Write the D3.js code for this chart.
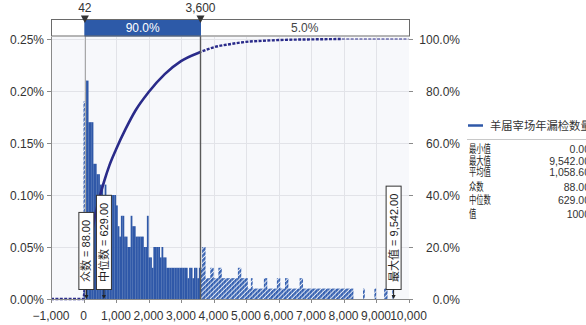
<!DOCTYPE html>
<html><head><meta charset="utf-8">
<script src="https://cdn.jsdelivr.net/npm/d3@7"></script>
<style>
body{margin:0;background:#fff;}
svg{display:block;font-family:"Liberation Sans",Arial,"Noto Sans CJK SC",sans-serif;}
</style>
</head><body>
<svg id="c" width="586" height="325"></svg>
<script>
// ---------------- data ----------------
const binStart = 0;
const binWidth = 50;
// histogram heights (%), one per 50-unit bin starting at 0
const density = [
 0.19,0.21,0.21,0.17,0.17,0.17,0.13,0.13,0.12,0.12,
 0.11,0.11,0.10,0.11,0.10,0.10,0.09,0.10,0.10,0.10,
 0.09,0.07,0.06,0.08,0.08,0.06,0.06,0.05,0.05,0.08,
 0.07,0.07,0.06,0.06,0.06,0.06,0.06,0.05,0.05,0.08,
 0.04,0.04,0.03,0.05,0.05,0.05,0.05,0.04,0.05,0.04,
 0.04,0.03,0.03,0.03,0.03,0.03,0.03,0.03,0.03,0.03,
 0.03,0.03,0.03,0.03,0.02,0.03,0.03,0.02,0.03,0.03,
 0.02,0.03,0.03,0.05,0.05,0.02,0.02,0.02,0.03,0.03,
 0.02,0.02,0.02,0.03,0.03,0.02,0.02,0.02,0.02,0.02,
 0.02,0.02,0.02,0.02,0.02,0.03,0.03,0.02,0.02,0.02,
 0.02,0.01,0.01,0.02,0.01,0.01,0.01,0.01,0.01,0.01,
 0.01,0.02,0.02,0.01,0.01,0.01,0.01,0.01,0.01,0.02,
 0.02,0.01,0.01,0.01,0.02,0.02,0.01,0.01,0.01,0.01,
 0.01,0.01,0.01,0.02,0.02,0.01,0.01,0.01,0.01,0.01,
 0.01,0.01,0.01,0.01,0.01,0.01,0.01,0.01,0.01,0.01,
 0.01,0.01,0.01,0.01,0.01,0.01,0.01,0.01,0.01,0.01,
 0.01,0.01,0.01,0.01,0.01,0.01,0,0,0,0,
 0,0,0.01,0,0,0,0,0,0,0.01,
 0,0,0,0,0,0.01,0.01,0,0,0,
 0.01
];
// cumulative curve [value, cumulative %]
const cumValues  = [-1000,0,20,42,100,200,300,450,629,800,1000,1300,1600,2000,2500,3000,3600,4000,4500,5000,5500,6000,7000,7950];
const cumPercent = [0,0,2,5,12,21,28.5,37,45,51.5,57.5,65.5,72.5,79.5,86.5,91.5,95,96.8,98,98.9,99.3,99.6,99.85,100];
const xTicks = [-1000,0,1000,2000,3000,4000,5000,6000,7000,8000,9000,10000];
const yTicks = [0,0.05,0.10,0.15,0.20,0.25];
const y2Ticks = [0,20,40,60,80,100];
const lowerCut = 42, upperCut = 3600;
const bandLabels = ["", "90.0%", "5.0%"];
const markerNames = ["众数","中位数","最大值"];
const markerValues = [88, 629, 9542];
const markerTexts = ["88.00","629.00","9,542.00"];
const seriesName = "羊届宰场年漏检数量";
const statLabels = ["最小值","最大值","平均值","众数","中位数","值"];
const statValues = ["0.00","9,542.00","1,058.60","88.00","629.00","1000"];

// ---------------- layout ----------------
const svg = d3.select("#c");
const L = 51, R = 409, T = 37, B = 299;
const x = d3.scaleLinear().domain([-1000,10000]).range([51,408.5]);
const y = d3.scaleLinear().domain([0,0.25]).range([299,39]);
const y2 = d3.scaleLinear().domain([0,100]).range([299,39]);
const BLUE = "#2f58a8", NAVY = "#2a2b8a", TXT = "#333";

const defs = svg.append("defs");
const pat = defs.append("pattern").attr("id","hatch").attr("patternUnits","userSpaceOnUse")
  .attr("width",3.4).attr("height",3.4).attr("patternTransform","rotate(45)");
pat.append("rect").attr("width",3.4).attr("height",3.4).attr("fill","#e4eaf5");
pat.append("rect").attr("width",2.4).attr("height",3.4).attr("fill","#3560b0");

const xl = x(lowerCut), xu = x(upperCut);
defs.append("clipPath").attr("id","inner").append("rect").attr("x",xl).attr("y",0).attr("width",xu-xl).attr("height",325);
const outer = defs.append("clipPath").attr("id","outer");
outer.append("rect").attr("x",0).attr("y",0).attr("width",xl).attr("height",325);
outer.append("rect").attr("x",xu).attr("y",0).attr("width",586-xu).attr("height",325);

// plot background
svg.append("rect").attr("x",L).attr("y",T).attr("width",R-L).attr("height",B-T+0.5).attr("fill","#f7f8fb");
// grid
svg.append("g").selectAll("line").data(yTicks.slice(1)).join("line")
  .attr("x1",L).attr("x2",R).attr("y1",d=>Math.round(y(d))+0.5).attr("y2",d=>Math.round(y(d))+0.5)
  .attr("stroke","#e2e3e8");
svg.append("g").selectAll("line").data(xTicks.slice(1,-1)).join("line")
  .attr("x1",d=>Math.round(x(d))+0.5).attr("x2",d=>Math.round(x(d))+0.5).attr("y1",T).attr("y2",B)
  .attr("stroke","#e2e3e8");

// histogram
const bins = density.map((d,i)=>({x0:binStart+i*binWidth, x1:binStart+(i+1)*binWidth, d})).filter(b=>b.d>0);
function drawBars(g, fill){
  g.selectAll("rect").data(bins).join("rect")
   .attr("x",b=>x(b.x0)).attr("width",b=>x(b.x1)-x(b.x0)+0.15)
   .attr("y",b=>y(b.d)).attr("height",b=>y(0)-y(b.d)).attr("fill",fill);
}
drawBars(svg.append("g").attr("clip-path","url(#inner)"), BLUE);
drawBars(svg.append("g").attr("clip-path","url(#outer)"), "url(#hatch)");

// cumulative curve
const cum = cumValues.map((v,i)=>[v,cumPercent[i]]);
const line = d3.line().x(d=>x(d[0])).y(d=>y2(d[1])).curve(d3.curveMonotoneX);
svg.append("path").attr("d",line(cum)).attr("fill","none").attr("stroke",NAVY).attr("stroke-width",2.6)
  .attr("clip-path","url(#inner)");
svg.append("path").attr("d",line(cum)).attr("fill","none").attr("stroke",NAVY).attr("stroke-width",2.4)
  .attr("stroke-dasharray","3,1.4").attr("clip-path","url(#outer)");
svg.append("path").attr("d",line([[cumValues[cumValues.length-1],100],[10000,100]])).attr("fill","none")
  .attr("stroke",NAVY).attr("stroke-width",1.1).attr("stroke-dasharray","3,1.4");

// axes lines
svg.append("line").attr("x1",L+0.5).attr("x2",L+0.5).attr("y1",T).attr("y2",B+1).attr("stroke","#8a8a8a");
svg.append("line").attr("x1",L).attr("x2",R).attr("y1",B+0.5).attr("y2",B+0.5).attr("stroke","#8a8a8a");

// left axis
yTicks.forEach(t=>{
  const yy = Math.round(y(t))+0.5;
  svg.append("line").attr("x1",47).attr("x2",L).attr("y1",yy).attr("y2",yy).attr("stroke","#8a8a8a");
  svg.append("text").attr("x",44).attr("y",yy+4.3).attr("text-anchor","end").attr("font-size",12).attr("fill",TXT)
    .text(d3.format(".2f")(t)+"%");
});
// right axis
y2Ticks.forEach(t=>{
  const yy = Math.round(y2(t))+0.5;
  svg.append("line").attr("x1",R).attr("x2",413).attr("y1",yy).attr("y2",yy).attr("stroke","#8a8a8a");
  svg.append("text").attr("x",460).attr("y",yy+4.3).attr("text-anchor","end").attr("font-size",12).attr("fill",TXT)
    .text(d3.format(".1f")(t)+"%");
});
// bottom axis
xTicks.forEach(t=>{
  const xx = Math.round(x(t))+0.5;
  svg.append("line").attr("x1",xx).attr("x2",xx).attr("y1",B).attr("y2",B+4).attr("stroke","#8a8a8a");
  svg.append("text").attr("x",x(t)).attr("y",319.5).attr("text-anchor","middle").attr("font-size",12).attr("fill",TXT)
    .text(d3.format(",")(t));
});

// cut lines
svg.append("line").attr("x1",Math.round(xl)+0.5).attr("x2",Math.round(xl)+0.5).attr("y1",20).attr("y2",B)
  .attr("stroke","#a8a8a8").attr("stroke-width",1);
svg.append("line").attr("x1",xu).attr("x2",xu).attr("y1",20).attr("y2",B)
  .attr("stroke","#5a5a5a").attr("stroke-width",1.4);

// top band
svg.append("rect").attr("x",L+0.5).attr("y",19.5).attr("width",R-L).attr("height",16.5).attr("fill","#fff");
svg.append("rect").attr("x",xl).attr("y",19.5).attr("width",xu-xl).attr("height",16.5).attr("fill","#2d5aa8").attr("stroke","#2d5aa8");
svg.append("rect").attr("x",L+0.5).attr("y",19.5).attr("width",R-L).attr("height",16.5).attr("fill","none").attr("stroke","#6a6a6a");
const bandX = [[L,xl],[xl,xu],[xu,R]];
bandLabels.forEach((s,i)=>{
  svg.append("text").attr("x",(bandX[i][0]+bandX[i][1])/2).attr("y",32.3).attr("text-anchor","middle")
    .attr("font-size",12).attr("fill",i===1?"#fff":"#444").text(s);
});
[lowerCut, upperCut].forEach(v=>{
  const xx = x(v);
  svg.append("path").attr("d",`M${xx-4},15.5L${xx+4},15.5L${xx},23Z`).attr("fill","#333");
  svg.append("text").attr("x",xx).attr("y",12).attr("text-anchor","middle").attr("font-size",12).attr("fill",TXT)
    .text(d3.format(",")(v));
});

// marker annotation boxes
markerNames.forEach((nm,i)=>{
  const xx = x(markerValues[i]);
  const g = svg.append("g");
  const boxBottom = 289.5;
  const t = g.append("text").attr("font-size",11).attr("fill","#222")
    .attr("font-family","'Liberation Sans','Noto Sans CJK SC',sans-serif");
  t.append("tspan").text(nm);
  t.append("tspan").text(" = "+markerTexts[i]);
  const len = t.node().getComputedTextLength();
  const h = len + 15;
  g.insert("rect","text").attr("x",xx-7.5).attr("y",boxBottom-h).attr("width",15).attr("height",h)
    .attr("fill","#fff").attr("stroke","#333");
  t.attr("transform",`translate(${xx+4},${boxBottom-7.5}) rotate(-90)`);
  g.append("line").attr("x1",xx).attr("x2",xx).attr("y1",boxBottom).attr("y2",B-2).attr("stroke","#222");
  g.append("path").attr("d",`M${xx-2},${B-4}L${xx+2},${B-4}L${xx},${B}Z`).attr("fill","#222");
});

// legend
svg.append("line").attr("x1",468).attr("x2",483).attr("y1",125.5).attr("y2",125.5).attr("stroke",BLUE).attr("stroke-width",2.5);
svg.append("text").attr("x",490).attr("y",129.5).attr("font-size",11.3).attr("fill","#333")
  .attr("font-family","'Noto Sans CJK SC',sans-serif").text(seriesName);
svg.append("line").attr("x1",467).attr("x2",586).attr("y1",139.5).attr("y2",139.5).attr("stroke","#c8c8c8");
const rowY = [149, 160.5, 172, 187, 200, 214];
statLabels.forEach((s,i)=>{
  svg.append("text").attr("x",469).attr("y",rowY[i]+4).attr("font-size",11)
    .attr("font-family","'Noto Sans CJK SC',sans-serif").attr("fill","#222")
    .attr("textLength",s.length*7.3).attr("lengthAdjust","spacingAndGlyphs").text(s);
  svg.append("text").attr("x",590).attr("y",rowY[i]+4).attr("font-size",10.5).attr("text-anchor","end")
    .attr("fill","#333").text(statValues[i]);
});
</script>
</body></html>
